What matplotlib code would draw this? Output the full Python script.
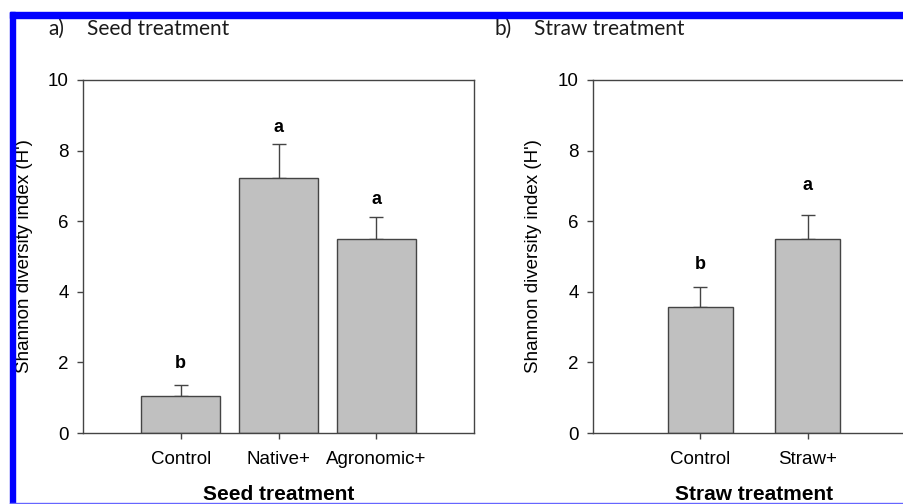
import matplotlib.pyplot as plt
from matplotlib.patches import Rectangle

# Data
seed_cats = ["Control", "Native+", "Agronomic+"]
seed_vals = [1.05, 7.22, 5.5]
seed_err = [0.31, 0.96, 0.62]
seed_letters = ["b", "a", "a"]
seed_letter_y = [1.84, 8.53, 6.49]

straw_cats = ["Control", "Straw+"]
straw_vals = [3.57, 5.5]
straw_err = [0.57, 0.68]
straw_letters = ["b", "a"]
straw_letter_y = [4.65, 6.88]

plt.rcParams['font.family'] = ['Liberation Sans', 'DejaVu Sans']

fig = plt.figure(figsize=(9.04, 5.04), dpi=100)

edge = "#444444"


def panel(ax, cats, vals, errs, letters, letter_y, width, xmax, xlabel, ylab_x):
    x = list(range(len(cats)))
    ax.bar(x, vals, width=width, color="#c0c0c0", edgecolor=edge, linewidth=1.0, zorder=2)
    ax.errorbar(x, vals, yerr=[[0] * len(errs), errs], fmt="none", ecolor=edge,
                elinewidth=1.0, capsize=4.7, capthick=1.0, zorder=1)
    for xi, ly, l in zip(x, letter_y, letters):
        ax.text(xi, ly, l, ha="center", va="baseline", fontsize=13, fontweight="bold")
    ax.set_xlim(-1, xmax)
    ax.set_ylim(0, 10)
    ax.set_yticks([0, 2, 4, 6, 8, 10])
    ax.set_xticks(x)
    ax.set_xticklabels(cats)
    ax.tick_params(axis="both", labelsize=13.5, color=edge, length=4.3, width=1.0, pad=6)
    ax.tick_params(axis="x", pad=9)
    for s in ax.spines.values():
        s.set_color(edge)
        s.set_linewidth(1.0)
    ax.set_ylabel("Shannon diversity index (H')", fontsize=13.5)
    ax.yaxis.set_label_coords(ylab_x, 0.5)
    ax.set_xlabel(xlabel, fontsize=15, fontweight="bold")
    ax.xaxis.set_label_coords(0.5, -0.148)


ax1 = fig.add_axes([83 / 904, 1 - 433 / 504, 391 / 904, 353 / 504])
panel(ax1, seed_cats, seed_vals, seed_err, seed_letters, seed_letter_y, 0.81, 3.0,
      "Seed treatment", -0.128)

ax2 = fig.add_axes([593 / 904, 1 - 433 / 504, 322 / 904, 353 / 504])
panel(ax2, straw_cats, straw_vals, straw_err, straw_letters, straw_letter_y, 0.6, 2.0,
      "Straw treatment", -0.158)

# panel titles
for tx, lab, title in [(48, "a)", "Seed treatment"), (495, "b)", "Straw treatment")]:
    fig.text(tx / 904, 1 - 29 / 504, lab, fontsize=15, family="Lato", color="#1a1a1a", va="center")
    fig.text((tx + 39) / 904, 1 - 29 / 504, title, fontsize=15, family="Lato",
             color="#1a1a1a", va="center")

# blue frame
fig.patches.append(Rectangle((10 / 904, 0), 5 / 904, 1 - 12 / 504, transform=fig.transFigure,
                             color="#0000ff", zorder=10))
fig.patches.append(Rectangle((10 / 904, 1 - 18 / 504), 1, 6 / 504, transform=fig.transFigure,
                             color="#0000ff", zorder=10))
fig.patches.append(Rectangle((10 / 904, 0), 1, 1.5 / 504, transform=fig.transFigure,
                             color="#6666ff", zorder=10))

fig.savefig("out.png", dpi=100)
